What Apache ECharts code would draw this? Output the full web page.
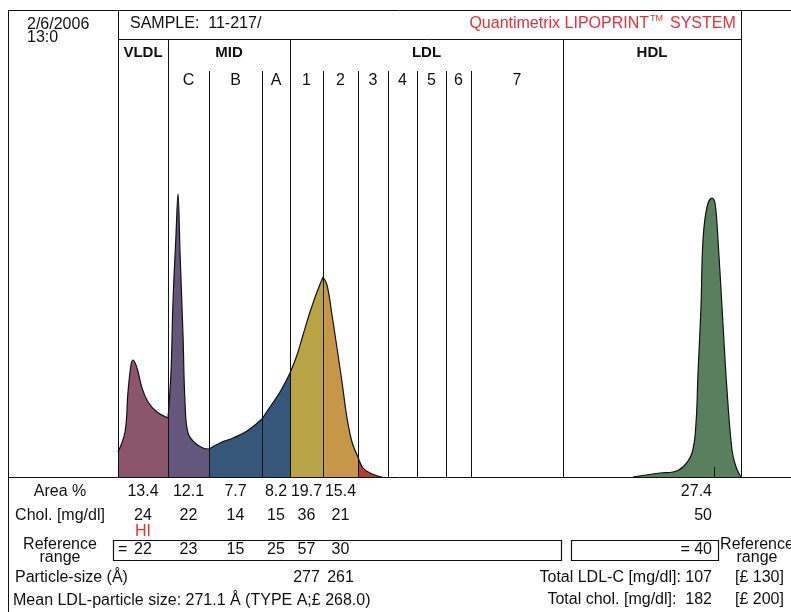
<!DOCTYPE html>
<html><head><meta charset="utf-8">
<script src="https://cdn.jsdelivr.net/npm/echarts@6/dist/echarts.min.js"></script>
<style>html,body{margin:0;padding:0;background:#fff}#c{width:791px;height:612px}</style>
</head><body><div id="c"></div>
<script>
// ---- data (x = migration position, y = relative intensity) ----
const groupLabels = ['VLDL', 'MID', 'LDL', 'HDL'];
const groupBounds = [[110, 160], [160, 282], [282, 555], [555, 733]];
const subLabels = ['C', 'B', 'A', '1', '2', '3', '4', '5', '6', '7'];
const subBounds = [[160, 201], [201, 254], [254, 282], [282, 315], [315, 350], [350, 380], [380, 409], [409, 438], [438, 463], [463, 555]];
const mainSeparators = [160, 282, 555];
const subSeparators = [201, 254, 315, 350, 380, 409, 438, 463];
const outerSeparators = [110, 733];
const hdlMarker = 706;

const vldlCurve = [[110,25],[117,45],[120,85],[123,112],[125,117],[129,109],[134,89],[140,75],[149,65],[160,59]];
const midCCurve = [[160,59],[163,105],[165,175],[168,242],[170,283],[172,225],[175,142],[177,75],[180,44],[187,34],[195,29],[201,28]];
const midBCurve = [[201,28],[212,34],[225,39],[239,46],[254,58]];
const midACurve = [[254,58],[262,70],[272,85],[282,104]];
const ldl1Curve = [[282,104],[289,122],[295,142],[302,165],[309,185],[315,200]];
const ldl2Curve = [[315,200],[319,192],[324,162],[329,129],[334,95],[339,59],[344,35],[350,20]];
const ldl3Curve = [[350,20],[355,9],[362,4],[370,1],[374,0]];
const hdlCurve = [[625,0],[652,4],[665,5],[675,10],[684,24],[688,54],[690,104],[693,170],[695,237],[699,270],[704,279],[707,274],[710,237],[714,170],[719,87],[724,27],[728,10],[733,0]];

const tableColumns = ['VLDL', 'C', 'B', 'A', '1', '2'];
const areaPct = ['13.4', '12.1', '7.7', '8.2', '19.7', '15.4'];
const cholValues = ['24', '22', '14', '15', '36', '21'];
const refValues = ['22', '23', '15', '25', '57', '30'];
const particleSize = ['', '', '', '', '277', '261'];
const hdlArea = '27.4';
const hdlChol = '50';
const hdlRef = '40';
const totalLdlC = '107';
const totalChol = '182';
const totalLdlCRef = '[£ 130]';
const totalCholRef = '[£ 200]';
const meanLdlText = 'Mean LDL-particle size: 271.1 Å (TYPE A;£ 268.0)';
const sampleText = 'SAMPLE:  11-217/';
const dateLines = ['2/6/2006', '13:0'];

// ---- chart ----
const FONT = '"Liberation Sans", Arial, Helvetica, sans-serif';
const chart = echarts.init(document.getElementById('c'), null, {renderer: 'canvas'});
const HEADER_Y = 438, SUB_Y = 406, TOP_Y = 467;

function area(name, data, color) {
  return {
    name, type: 'line', data, smooth: 0.4, symbol: 'none', silent: true,
    lineStyle: {color: '#111', width: 1.2}, areaStyle: {color, opacity: 1}, z: 2
  };
}
function sepLines(xs, top) {
  return xs.map(x => [{coord: [x, 0]}, {coord: [x, top]}]);
}

chart.setOption({
  animation: false,
  grid: {left: 8, right: 0, top: 10, bottom: 135, containLabel: false},
  xAxis: {type: 'value', min: 0, max: 783, show: false},
  yAxis: {type: 'value', min: 0, max: 467, show: false},
  series: [
    area('VLDL', vldlCurve, '#8b566c'),
    area('C', midCCurve, '#65567b'),
    area('B', midBCurve, '#36577a'),
    area('A', midACurve, '#36577a'),
    area('1', ldl1Curve, '#b9a445'),
    area('2', ldl2Curve, '#c69749'),
    area('3', ldl3Curve, '#b3402a'),
    area('HDL', hdlCurve, '#5a7f5e'),
    {
      type: 'line', data: [], silent: true, z: 5,
      markLine: {
        silent: true, symbol: 'none', animation: false,
        label: {show: false},
        lineStyle: {color: '#111', width: 1, type: 'solid'},
        data: [].concat(sepLines(outerSeparators, TOP_Y), sepLines(mainSeparators, HEADER_Y),
                        sepLines(subSeparators, SUB_Y), sepLines([hdlMarker], 10))
      }
    }
  ]
});

function px(x) { return chart.convertToPixel({gridIndex: 0}, [x, 0])[0]; }
function mid(b) { return (px(b[0]) + px(b[1])) / 2; }
function txt(text, x, y, opt) {
  opt = opt || {};
  return {
    type: 'text', silent: true, z: 10,
    style: {
      text, x, y, fill: opt.fill || '#111',
      font: (opt.bold ? 'bold ' : '') + (opt.size || 16) + 'px ' + FONT,
      textAlign: opt.align || 'center', textVerticalAlign: 'middle'
    }
  };
}
function line(x1, y1, x2, y2) {
  return {type: 'line', silent: true, z: 10, shape: {x1, y1, x2, y2}, style: {stroke: '#111', lineWidth: 1}};
}
function rect(x, y, w, h) {
  return {type: 'rect', silent: true, z: 10, shape: {x, y, width: w, height: h}, style: {stroke: '#111', lineWidth: 1.2, fill: 'none'}};
}

const g = [];
// frame
g.push(line(8, 10.5, 791, 10.5));
g.push(line(8.5, 10, 8.5, 612));
g.push(line(px(110), 39.5, px(733), 39.5));
g.push(line(8, 477.5, 791, 477.5));
// header texts
g.push(txt(dateLines[0], 27, 24.5, {align: 'left'}));
g.push(txt(dateLines[1], 27, 37.5, {align: 'left'}));
g.push(txt(sampleText, 130, 24, {align: 'left'}));
const red = '#e8303a';
g.push(txt('Quantimetrix LIPOPRINT', 649, 24, {align: 'right', fill: red}));
g.push(txt('TM', 650, 19, {align: 'left', fill: red, size: 9}));
g.push(txt('SYSTEM', 670, 24, {align: 'left', fill: red}));
groupLabels.forEach((l, i) => g.push(txt(l, mid(groupBounds[i]), 53, {bold: true, size: 15})));
subLabels.forEach((l, i) => g.push(txt(l, mid(subBounds[i]), 81)));
// table
const colCenters = tableColumns.map(n => {
  const i = subLabels.indexOf(n);
  return i >= 0 ? mid(subBounds[i]) : mid(groupBounds[0]);
});
g.push(txt('Area %', 60, 492));
g.push(txt('Chol. [mg/dl]', 60, 516));
g.push(txt('Reference', 60, 545));
g.push(txt('range', 60, 558));
areaPct.forEach((v, i) => g.push(txt(v, colCenters[i], 492)));
cholValues.forEach((v, i) => g.push(txt(v, colCenters[i], 516)));
g.push(txt('HI', colCenters[0], 532, {fill: red}));
g.push(rect(113.5, 540.5, 448, 20));
g.push(rect(571.5, 540.5, 147, 20));
g.push(txt('=', 118, 550, {align: 'left'}));
refValues.forEach((v, i) => g.push(txt(v, colCenters[i], 550)));
g.push(txt('Particle-size (Å)', 15, 578, {align: 'left'}));
particleSize.forEach((v, i) => { if (v) g.push(txt(v, colCenters[i], 578)); });
g.push(txt(meanLdlText, 13, 601, {align: 'left'}));
// HDL column
g.push(txt(hdlArea, 712, 492, {align: 'right'}));
g.push(txt(hdlChol, 712, 516, {align: 'right'}));
g.push(txt('= ' + hdlRef, 712, 550, {align: 'right'}));
g.push(txt('Reference', 757, 545));
g.push(txt('range', 757, 558));
g.push(txt('Total LDL-C [mg/dl]: ' + totalLdlC, 712, 578, {align: 'right'}));
g.push(txt('Total chol. [mg/dl]:  ' + totalChol, 712, 600, {align: 'right'}));
g.push(txt(totalLdlCRef, 735, 578, {align: 'left'}));
g.push(txt(totalCholRef, 735, 600, {align: 'left'}));

chart.setOption({graphic: {elements: g}});
</script>
</body></html>
